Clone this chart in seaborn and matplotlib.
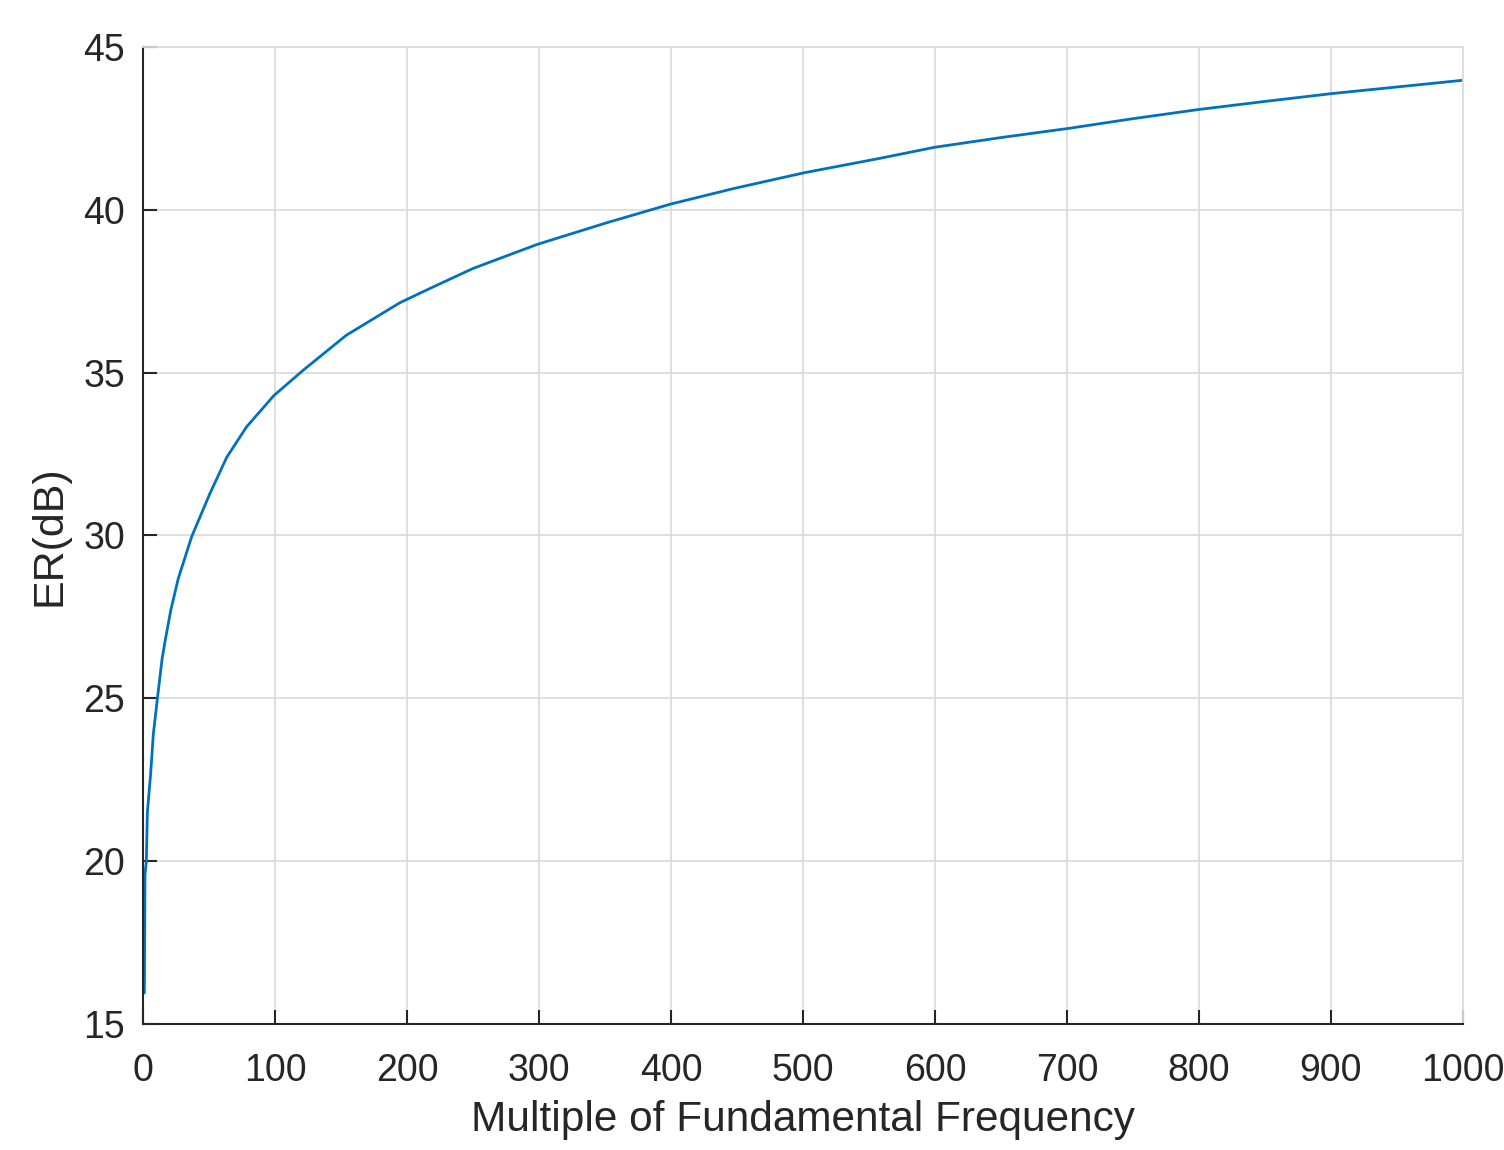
import seaborn as sns
import matplotlib.pyplot as plt
import pandas as pd

# values
multiple = [1, 1.5, 2.5, 3.3, 5.8, 7.8, 10.9, 14.4, 16.9, 21, 26.7, 36.9, 50.8,
            63.4, 78.5, 99.2, 121.5, 154, 194.7, 217, 250, 298.7, 351, 400, 447,
            501, 558, 599.5, 650, 701, 750, 799.5, 850, 900.5, 937, 1000]
er_db = [15.95, 19.6, 20.0, 21.5, 22.7, 23.9, 25.0, 26.2, 26.8, 27.7, 28.68,
         29.97, 31.3, 32.4, 33.34, 34.3, 35.08, 36.15, 37.15, 37.58, 38.2, 38.94,
         39.6, 40.18, 40.65, 41.14, 41.58, 41.92, 42.22, 42.5, 42.8, 43.08, 43.33,
         43.57, 43.72, 43.98]
x_ticks = [0, 100, 200, 300, 400, 500, 600, 700, 800, 900, 1000]
y_ticks = [15, 20, 25, 30, 35, 40, 45]

df = pd.DataFrame({"n": multiple, "er": er_db})

sns.set_theme(style="whitegrid")
plt.rcParams['font.family'] = ['Liberation Sans', 'DejaVu Sans']

fig = plt.figure(figsize=(15.04, 11.5), dpi=100)
ax = fig.add_axes([0.0951, 0.1096, 0.8776, 0.8495])

sns.lineplot(data=df, x="n", y="er", color="#0072BD", linewidth=2.0, ax=ax)

ax.set_xlim(0, 1000)
ax.set_ylim(15, 45)
ax.set_xticks(x_ticks)
ax.set_yticks(y_ticks)
ax.grid(True, color="#dcdcdc", linewidth=1.3)
ax.set_facecolor("white")

for side in ["left", "bottom"]:
    ax.spines[side].set_color("#262626")
    ax.spines[side].set_linewidth(1.5)
for side in ["top", "right"]:
    ax.spines[side].set_color("#dcdcdc")
    ax.spines[side].set_linewidth(1.3)

ax.tick_params(axis="both", direction="in", length=10, width=1.5, color="#262626",
               labelsize=27, labelcolor="#262626", left=True, bottom=True)
ax.tick_params(axis="x", pad=21)
ax.tick_params(axis="y", pad=13)
ax.set_xlabel("Multiple of Fundamental Frequency", fontsize=30.5, color="#262626", labelpad=8)
ax.set_ylabel("ER(dB)", fontsize=31, color="#262626", labelpad=10)

fig.savefig("out.png", dpi=100)
